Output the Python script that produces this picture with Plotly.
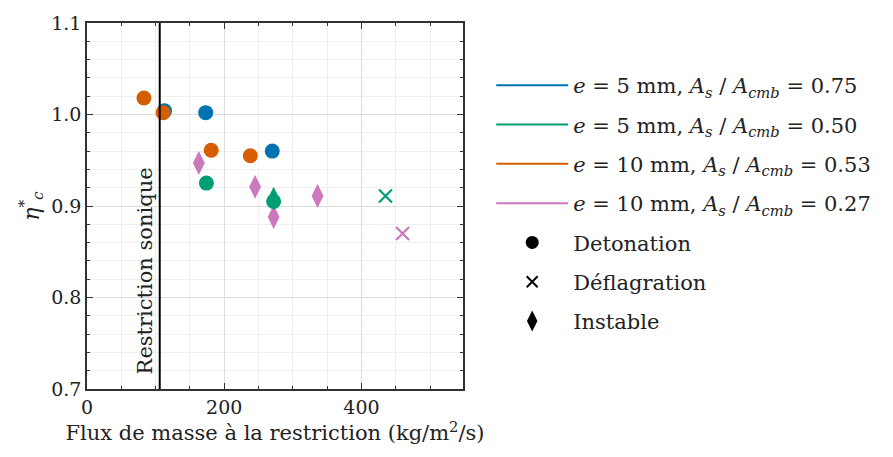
import plotly.graph_objects as go

# ---------------- data ----------------
SERIES_NAMES = [
    "<i>e</i> = 5 mm, <i>A<sub>s</sub></i> / <i>A<sub>cmb</sub></i> = 0.75",
    "<i>e</i> = 5 mm, <i>A<sub>s</sub></i> / <i>A<sub>cmb</sub></i> = 0.50",
    "<i>e</i> = 10 mm, <i>A<sub>s</sub></i> / <i>A<sub>cmb</sub></i> = 0.53",
    "<i>e</i> = 10 mm, <i>A<sub>s</sub></i> / <i>A<sub>cmb</sub></i> = 0.27",
]
SERIES_COLORS = ["#0173b2", "#029e73", "#d55e00", "#cc78bc"]
REGIME_NAMES = ["Detonation", "Déflagration", "Instable"]
REGIME_SYMBOLS = ["circle", "x-thin", "diamond"]

# blue: e=5mm, 0.75
blue_det_x = [113, 173, 270]
blue_det_y = [1.004, 1.002, 0.960]
# green: e=5mm, 0.50
green_det_x = [174, 272]
green_det_y = [0.925, 0.905]
green_ins_x = [272]
green_ins_y = [0.908]
green_def_x = [435]
green_def_y = [0.911]
# orange: e=10mm, 0.53
orange_det_x = [83, 111, 181, 238]
orange_det_y = [1.018, 1.002, 0.961, 0.955]
# pink: e=10mm, 0.27
pink_ins_x = [163, 245, 272, 336]
pink_ins_y = [0.947, 0.921, 0.888, 0.911]
pink_def_x = [460]
pink_def_y = [0.870]

SONIC_FLUX = 106
X_TICKS = [0, 200, 400]
Y_TICKS = [0.7, 0.8, 0.9, 1.0, 1.1]

FONT = "DejaVu Serif"
TXT = "#222"

fig = go.Figure()

def add_points(x, y, color, symbol):
    if symbol == "x-thin":
        marker = dict(symbol=symbol, size=13, color=color,
                      line=dict(color=color, width=2.2))
    elif symbol == "diamond":
        marker = dict(symbol="diamond-tall", size=17, color=color, line=dict(width=0))
    else:
        marker = dict(symbol=symbol, size=15, color=color, line=dict(width=0))
    fig.add_trace(go.Scatter(x=x, y=y, mode="markers", marker=marker,
                             showlegend=False, hoverinfo="x+y"))

add_points(blue_det_x, blue_det_y, SERIES_COLORS[0], "circle")
add_points(orange_det_x, orange_det_y, SERIES_COLORS[2], "circle")
add_points(pink_ins_x, pink_ins_y, SERIES_COLORS[3], "diamond")
add_points(green_ins_x, green_ins_y, SERIES_COLORS[1], "diamond")
add_points(green_det_x, green_det_y, SERIES_COLORS[1], "circle")
add_points(green_def_x, green_def_y, SERIES_COLORS[1], "x-thin")
add_points(pink_def_x, pink_def_y, SERIES_COLORS[3], "x-thin")

# legend entries
for i, (name, color) in enumerate(zip(SERIES_NAMES, SERIES_COLORS)):
    fig.add_trace(go.Scatter(x=[None], y=[None], mode="lines", name=name,
                             line=dict(color=color, width=2),
                             legendgroup=f"g{i}", showlegend=True))
for j, (name, sym) in enumerate(zip(REGIME_NAMES, REGIME_SYMBOLS)):
    if sym == "x-thin":
        mk = dict(symbol="x-thin", size=11, color="black", line=dict(color="black", width=2))
    elif sym == "diamond":
        mk = dict(symbol="diamond-tall", size=15, color="black")
    else:
        mk = dict(symbol="circle", size=13, color="black")
    fig.add_trace(go.Scatter(x=[None], y=[None], mode="markers", name=name,
                             marker=mk, legendgroup=f"r{j}", showlegend=True))

fig.add_shape(type="line", x0=SONIC_FLUX, x1=SONIC_FLUX, y0=0, y1=1,
              xref="x", yref="paper", line=dict(color="black", width=2))
fig.add_annotation(x=SONIC_FLUX, y=0.035, xref="x", yref="paper",
                   text="Restriction sonique", textangle=-90, showarrow=False,
                   xanchor="right", yanchor="bottom", xshift=-1,
                   font=dict(family=FONT, size=21, color=TXT))

axis_common = dict(
    showline=True, linecolor="#333", linewidth=1.5, mirror="allticks",
    ticks="inside", ticklen=6, tickcolor="#333",
    showgrid=True, gridcolor="#dcdcdc", gridwidth=1,
    zeroline=False, automargin=False,
    tickfont=dict(family=FONT, size=19, color=TXT),
)

fig.update_xaxes(
    range=[0, 548], tickvals=X_TICKS, **axis_common,
    minor=dict(ticks="inside", ticklen=3, dtick=50, tick0=0, tickcolor="#333",
               showgrid=True, gridcolor="#efefef"),
    title=dict(text="Flux de masse à la restriction (kg/m<sup>2</sup>/s)",
               font=dict(family=FONT, size=21, color=TXT), standoff=6),
)
fig.update_yaxes(
    range=[0.7, 1.1], tickvals=Y_TICKS, tickformat=".1f", **axis_common,
    minor=dict(ticks="inside", ticklen=3, dtick=0.02, tick0=0.7, tickcolor="#333",
               showgrid=True, gridcolor="#efefef"),
    title=dict(text="<i>η</i><sup>*</sup><sub><i>c</i></sub>",
               font=dict(family=FONT, size=22, color=TXT), standoff=6),
)

fig.update_layout(
    width=885, height=449,
    margin=dict(l=79, r=430, t=15, b=68, autoexpand=False),
    plot_bgcolor="white", paper_bgcolor="white",
    font=dict(family=FONT, size=19, color=TXT),
    legend=dict(x=1.075, y=0.885, xanchor="left", yanchor="top",
                font=dict(family=FONT, size=21, color=TXT),
                tracegroupgap=9, itemwidth=72, bgcolor="rgba(0,0,0,0)"),
)

fig.write_html("out.html")
